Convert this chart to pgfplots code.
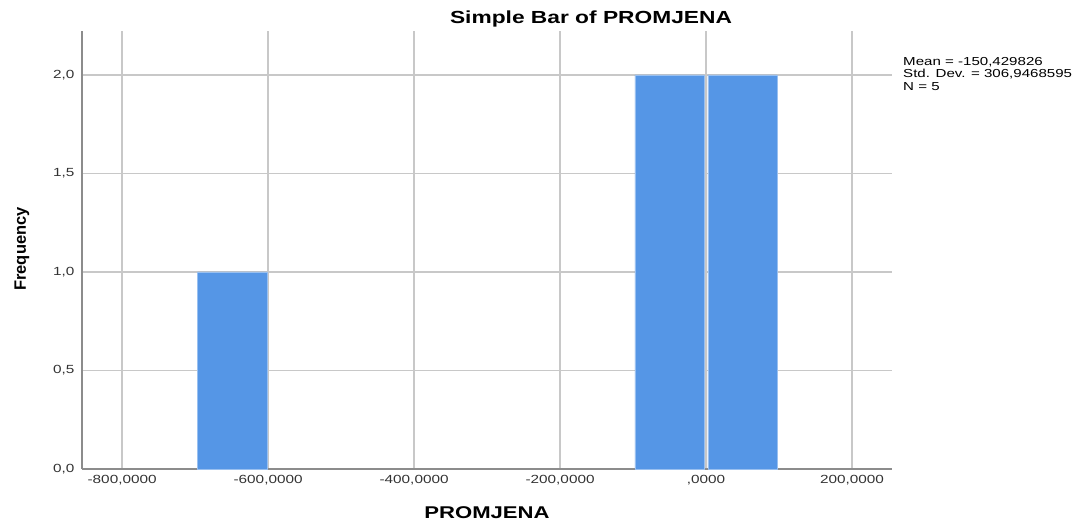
\documentclass[border=0pt]{standalone}
\usepackage{fontspec}
\setmainfont{Liberation Sans}[FakeStretch=1.3]
\newfontfamily\plainsans{Liberation Sans}
\usepackage{pgfplots}
\pgfplotsset{compat=1.18}
\definecolor{barblue}{RGB}{85,150,230}
\definecolor{gridgray}{RGB}{200,200,200}
\definecolor{axgray}{RGB}{140,140,140}
\begin{document}
\begin{tikzpicture}[x=1pt,y=1pt]
\path[use as bounding box] (0,0) rectangle (1074,524);
\begin{axis}[
  at={(82pt,55pt)}, anchor=south west,
  scale only axis, width=810pt, height=438pt,
  xmin=-855, xmax=254.8, ymin=0, ymax=2.223,
  axis lines*=left,
  axis line style={axgray, line width=1.2pt},
  grid=major,
  major grid style={gridgray, line width=1.3pt},
  xtick={-800,-600,-400,-200,0,200},
  xticklabels={{-800,0000},{-600,0000},{-400,0000},{-200,0000},{,0000},{200,0000}},
  ytick={0,0.5,1,1.5,2},
  yticklabels={{0,0},{0,5},{1,0},{1,5},{2,0}},
  major tick length=0pt,
  tick label style={font=\fontsize{11.8}{13}\selectfont, text=black!80},
  xticklabel style={yshift=-3pt},
  yticklabel style={xshift=-4pt},
  clip=false,
]
\addplot[ybar, bar width=95, fill=barblue, draw=barblue!60!white, line width=0.6pt]
  coordinates {(-649,1) (-50,2) (50,2)};
\end{axis}
\node[font=\bfseries\fontsize{17.5}{20}\selectfont] at (591,505) {Simple Bar of PROMJENA};
\node[font=\bfseries\fontsize{17}{20}\selectfont] at (487,11) {PROMJENA};
\node[rotate=90, font=\plainsans\bfseries\fontsize{16.5}{18}\selectfont] at (22,275) {Frequency};
\node[anchor=north west, inner sep=0pt, align=left, font=\fontsize{11.6}{12.6}\selectfont] at (903,467)
  {Mean = -150,429826\\Std. Dev. = 306,9468595\\N = 5};
\end{tikzpicture}
\end{document}
